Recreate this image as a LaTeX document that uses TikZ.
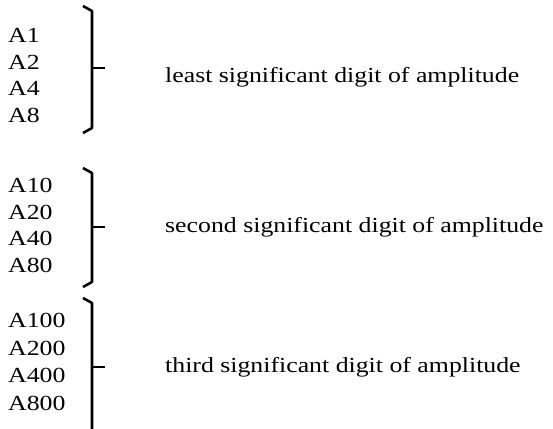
\documentclass[tikz,border=0pt]{standalone}
\usepackage{fontspec}
\setmainfont{Liberation Serif}[FakeStretch=1.2]
\usetikzlibrary{positioning}

\begin{document}
\begin{tikzpicture}[x=1pt,y=-1pt,
  every node/.style={font=\fontsize{21.5}{26}\selectfont,inner sep=0pt},
  bit/.style={anchor=west},
  digit/.style={anchor=west},
  brace/.style={line width=2.6pt,line join=round},
  tick/.style={line width=1.6pt}]
\useasboundingbox (0,0) rectangle (553,428);

%---------------------First Group------------------%
\node[bit] (a1) at (8,35) {A1};
\node[bit] (a2) at (8,62) {A2};
\node[bit] (a4) at (8,88) {A4};
\node[bit] (a8) at (8,115) {A8};
\coordinate (b1top) at (83,6);
\coordinate (b1bot) at (83,133);
\draw[brace] (b1top) -- ++(9,5) -- ([shift={(9,-5)}]b1bot) -- (b1bot);
\coordinate (t1) at (92,68);
\coordinate (t1end) at (105,68);
\draw[tick] (t1) -- (t1end);
\node[digit] (d1) at (165,77) {least significant digit of amplitude};
%--------------------------------------------------%

%---------------------Second Group------------------%
\node[bit] (a10) at (8,185) {A10};
\node[bit] (a20) at (8,212) {A20};
\node[bit] (a40) at (8,238) {A40};
\node[bit] (a80) at (8,265) {A80};
\coordinate (b2top) at (83,168);
\coordinate (b2bot) at (83,287);
\draw[brace] (b2top) -- ++(9,5) -- ([shift={(9,-5)}]b2bot) -- (b2bot);
\coordinate (t2) at (92,227);
\coordinate (t2end) at (105,227);
\draw[tick] (t2) -- (t2end);
\node[digit] (d2) at (165,227) {second significant digit of amplitude};
%--------------------------------------------------%

%---------------------Third Group------------------%
\node[bit] (a100) at (8,320) {A100};
\node[bit] (a200) at (8,348) {A200};
\node[bit] (a400) at (8,375) {A400};
\node[bit] (a800) at (8,403) {A800};
\coordinate (b3top) at (83,298);
\coordinate (b3bot) at (92,430);
\draw[brace] (b3top) -- ++(9,5) -- (b3bot);
\coordinate (t3) at (92,367);
\coordinate (t3end) at (105,367);
\draw[tick] (t3) -- (t3end);
\node[digit] (d3) at (165,367) {third significant digit of amplitude};
%--------------------------------------------------%
\end{tikzpicture}
\end{document}
